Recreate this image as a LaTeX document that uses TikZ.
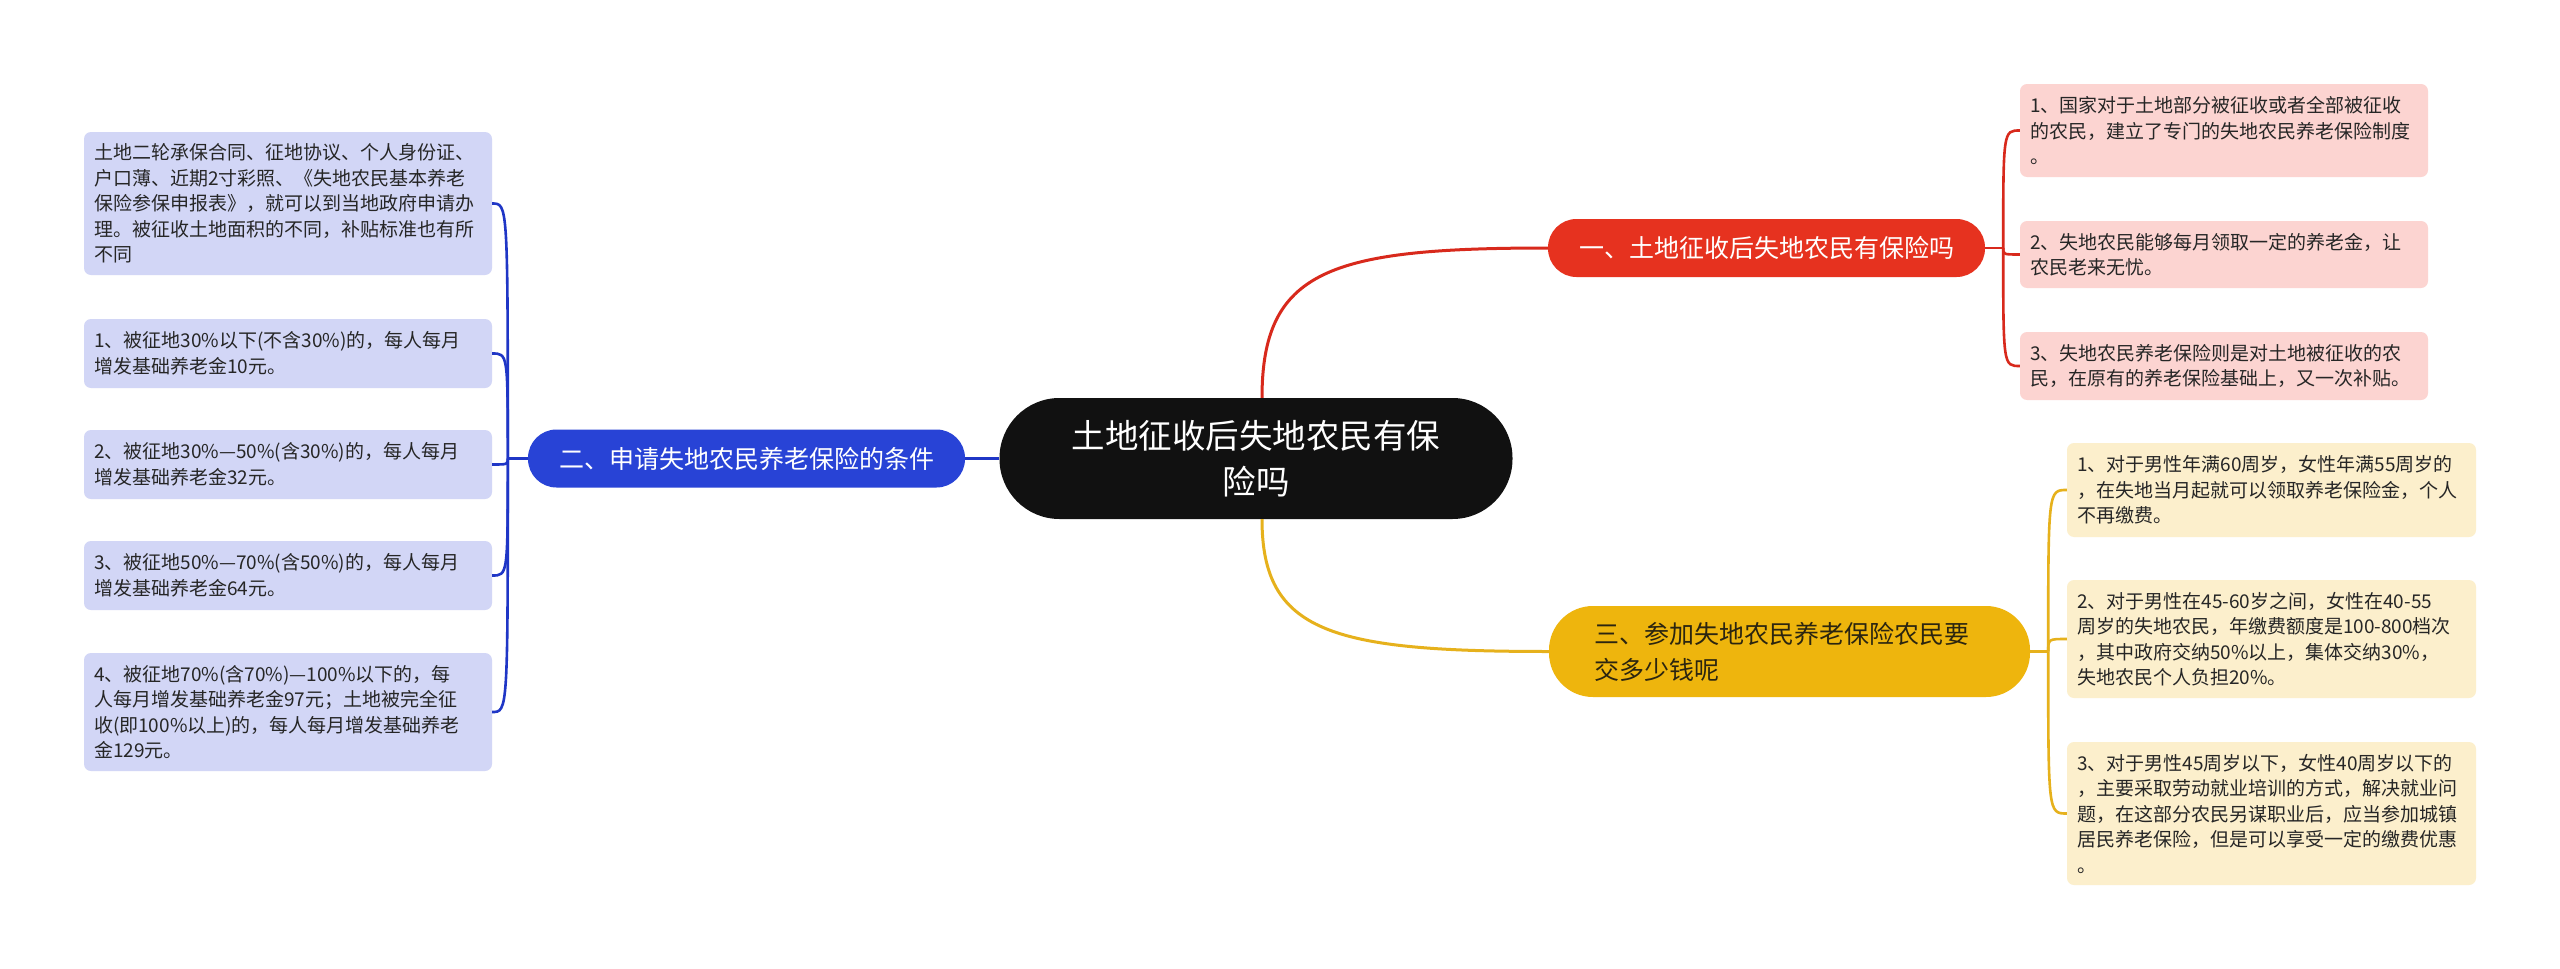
\documentclass[tikz,border=0pt]{standalone}
\usepackage{fontspec}
\newfontfamily\cjk{Noto Sans CJK SC}
\usetikzlibrary{calc}

\definecolor{rootbg}{HTML}{111111}
\definecolor{redmain}{HTML}{E6321F}
\definecolor{redline}{HTML}{D8291C}
\definecolor{redleaf}{HTML}{FCD4D1}
\definecolor{bluemain}{HTML}{2843D6}
\definecolor{blueline}{HTML}{1F36C6}
\definecolor{blueleaf}{HTML}{D2D6F6}
\definecolor{ylwmain}{HTML}{EEB50D}
\definecolor{ylwline}{HTML}{E6B11C}
\definecolor{ylwleaf}{HTML}{FCEFCC}
\definecolor{ylwtext}{HTML}{2B2510}
\definecolor{leaftext}{HTML}{262626}

\begin{document}
\begin{tikzpicture}[
    x=1pt, y=-1pt,
    root/.style  = {fill=rootbg, text=white, rounded corners=60pt,
                    minimum width=513pt, minimum height=121pt, inner sep=0pt,
                    align=center, font=\cjk\fontsize{33.5pt}{46pt}\selectfont},
    topic/.style = {rounded corners=28.5pt, minimum width=437pt, minimum height=58pt,
                    inner sep=0pt, align=center,
                    font=\cjk\fontsize{25pt}{36pt}\selectfont},
    leaf/.style  = {rounded corners=7pt, text width=388pt, inner xsep=10pt,
                    inner ysep=0pt, align=left, text=leaftext,
                    font=\cjk\fontsize{19pt}{25.5pt}\selectfont},
    link/.style  = {line width=2.6pt},
  ]

  % ---------- 画布 ----------
  \fill[white] (0,0) rectangle (2560,969);
  \useasboundingbox (0,0) rectangle (2560,969);

  % ---------- 中心主题 ----------
  \node[root] (root) at (1256,458.5) {土地征收后失地农民有保\\险吗};

  % ---------- 三个分支 ----------
  \node[topic, fill=redmain, text=white]  (t1) at (1766.5,248)  {一、土地征收后失地农民有保险吗};
  \node[topic, fill=bluemain, text=white] (t2) at (746.5,458.5) {二、申请失地农民养老保险的条件};
  \node[topic, fill=ylwmain, text=ylwtext, text width=390pt, inner xsep=45.5pt,
        align=left, minimum height=91pt, rounded corners=44pt]
        (t3) at (1789.5,651.5) {三、参加失地农民养老保险农民要\\交多少钱呢};

  % ---------- 分支一的子项 ----------
  \node[leaf, fill=redleaf, minimum height=93pt] (t1a) at (2224,130.5)
        {1、国家对于土地部分被征收或者全部被征收\\的农民，建立了专门的失地农民养老保险制度\\。};
  \node[leaf, fill=redleaf, minimum height=67pt] (t1b) at (2224,254.5)
        {2、失地农民能够每月领取一定的养老金，让\\农民老来无忧。};
  \node[leaf, fill=redleaf, minimum height=68pt] (t1c) at (2224,366)
        {3、失地农民养老保险则是对土地被征收的农\\民，在原有的养老保险基础上，又一次补贴。};

  % ---------- 分支二的子项 ----------
  \node[leaf, fill=blueleaf, minimum height=143pt] (t2a) at (288,203.5)
        {土地二轮承保合同、征地协议、个人身份证、\\户口薄、近期2寸彩照、《失地农民基本养老\\保险参保申报表》，就可以到当地政府申请办\\理。被征收土地面积的不同，补贴标准也有所\\不同};
  \node[leaf, fill=blueleaf, minimum height=69pt] (t2b) at (288,353.5)
        {1、被征地30\%以下(不含30\%)的，每人每月\\增发基础养老金10元。};
  \node[leaf, fill=blueleaf, minimum height=69pt] (t2c) at (288,464.5)
        {2、被征地30\%—50\%(含30\%)的，每人每月\\增发基础养老金32元。};
  \node[leaf, fill=blueleaf, minimum height=69pt] (t2d) at (288,575.5)
        {3、被征地50\%—70\%(含50\%)的，每人每月\\增发基础养老金64元。};
  \node[leaf, fill=blueleaf, minimum height=118pt] (t2e) at (288,712)
        {4、被征地70\%(含70\%)—100\%以下的，每\\人每月增发基础养老金97元；土地被完全征\\收(即100\%以上)的，每人每月增发基础养老\\金129元。};

  % ---------- 分支三的子项 ----------
  \node[leaf, fill=ylwleaf, text width=389pt, minimum height=94pt] (t3a) at (2271.5,490)
        {1、对于男性年满60周岁，女性年满55周岁的\\，在失地当月起就可以领取养老保险金，个人\\不再缴费。};
  \node[leaf, fill=ylwleaf, text width=389pt, minimum height=118pt] (t3b) at (2271.5,639)
        {2、对于男性在45-60岁之间，女性在40-55\\周岁的失地农民，年缴费额度是100-800档次\\，其中政府交纳50\%以上，集体交纳30\%，\\失地农民个人负担20\%。};
  \node[leaf, fill=ylwleaf, text width=389pt, minimum height=143pt] (t3c) at (2271.5,813.5)
        {3、对于男性45周岁以下，女性40周岁以下的\\，主要采取劳动就业培训的方式，解决就业问\\题，在这部分农民另谋职业后，应当参加城镇\\居民养老保险，但是可以享受一定的缴费优惠\\。};

  % ---------- 中心到分支 ----------
  \draw[link, line width=3pt, redline] ([xshift=6pt]root.north)
        .. controls +(0,-128) and +(-218,0) .. (t1.west);
  \draw[link, line width=3pt, blueline] (root.west) -- (t2.east);
  \draw[link, line width=3pt, ylwline] ([xshift=6pt]root.south)
        .. controls +(0,113) and +(-218,0) .. (t3.west);

  % ---------- 分叉点 ----------
  \coordinate (j1) at ([xshift=18pt]t1.east);
  \coordinate (j2) at ([xshift=-20pt]t2.west);
  \coordinate (j3) at ([xshift=18pt]t3.east);

  % ---------- 分支到子项（括号状） ----------
  \draw[link, redline] (t1.east) -- (j1);
  \draw[link, redline] (j1) .. controls (j1 |- t1a.west) .. (t1a.west);
  \draw[link, redline] (j1) .. controls (j1 |- t1b.west) .. (t1b.west);
  \draw[link, redline] (j1) .. controls (j1 |- t1c.west) .. (t1c.west);

  \draw[link, blueline] (t2.west) -- (j2);
  \draw[link, blueline] (j2) .. controls (j2 |- t2a.east) .. (t2a.east);
  \draw[link, blueline] (j2) .. controls (j2 |- t2b.east) .. (t2b.east);
  \draw[link, blueline] (j2) .. controls (j2 |- t2c.east) .. (t2c.east);
  \draw[link, blueline] (j2) .. controls (j2 |- t2d.east) .. (t2d.east);
  \draw[link, blueline] (j2) .. controls (j2 |- t2e.east) .. (t2e.east);

  \draw[link, ylwline] (t3.east) -- (j3);
  \draw[link, ylwline] (j3) .. controls (j3 |- t3a.west) .. (t3a.west);
  \draw[link, ylwline] (j3) .. controls (j3 |- t3b.west) .. (t3b.west);
  \draw[link, ylwline] (j3) .. controls (j3 |- t3c.west) .. (t3c.west);

\end{tikzpicture}
\end{document}
